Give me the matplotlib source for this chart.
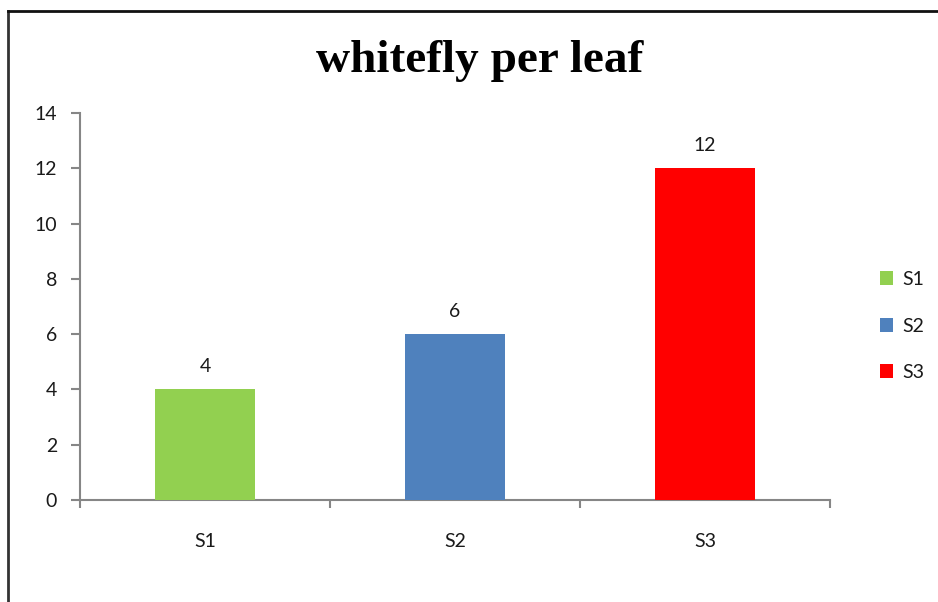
import matplotlib
matplotlib.use('Agg')
import matplotlib.pyplot as plt
from matplotlib.lines import Line2D
from matplotlib.patches import Patch

# whitefly per leaf
categories = ['S1', 'S2', 'S3']
values = [4, 6, 12]
colors = ['#92D050', '#4F81BD', '#FF0000']
yticks = [0, 2, 4, 6, 8, 10, 12, 14]

axis_grey = '#868686'
text_col = '#1a1a1a'
fs = 14

fig = plt.figure(figsize=(9.38, 6.02), dpi=100)
ax = fig.add_axes([80 / 938, 102 / 602, 750 / 938, 387 / 602])

x = range(len(categories))
bars = ax.bar(x, values, width=0.4, color=colors, zorder=3)

for xi, v in zip(x, values):
    ax.annotate(str(v), (xi, v), xytext=(0, 14), textcoords='offset pixels',
                ha='center', va='bottom', fontsize=fs, family='Lato', color=text_col)

ax.set_xlim(-0.5, len(categories) - 0.5)
ax.set_ylim(0, 14)
ax.set_yticks(yticks)
ax.set_yticklabels([str(t) for t in yticks], fontsize=fs, family='Lato', color=text_col)

# category boundaries as ticks, labels in the middle
ax.set_xticks([i - 0.5 for i in range(len(categories) + 1)])
ax.set_xticklabels([])
ax.set_xticks(list(x), minor=True)
ax.set_xticklabels(categories, minor=True, fontsize=fs, family='Lato', color=text_col)
ax.tick_params(axis='x', which='major', length=6, width=1.5, color=axis_grey, direction='out')
ax.tick_params(axis='x', which='minor', length=0, pad=23.5)
ax.tick_params(axis='y', length=6.5, width=1.5, color=axis_grey, pad=10)

for s in ['top', 'right']:
    ax.spines[s].set_visible(False)
for s in ['left', 'bottom']:
    ax.spines[s].set_color(axis_grey)
    ax.spines[s].set_linewidth(1.5)

fig.text(0.511, 1 - 61 / 602, 'whitefly per leaf', ha='center', va='center',
         fontsize=34, fontweight='bold', family='Liberation Serif')

handles = [Patch(facecolor=c, label=l) for c, l in zip(colors, categories)]
fig.legend(handles=handles, loc='center left', bbox_to_anchor=(862 / 938, 1 - 326 / 602),
           frameon=False, handlelength=0.7, handleheight=0.7, handletextpad=0.5,
           labelspacing=1.52, prop={'family': 'Lato', 'size': fs}, labelcolor=text_col)

# frame lines (top and left only)
fig.add_artist(Line2D([8 / 938, 8 / 938], [0, 1 - 11 / 602], color='#333333', lw=2))
fig.add_artist(Line2D([8 / 938, 1], [1 - 11 / 602, 1 - 11 / 602], color='#111111', lw=2))

fig.savefig('out.png', dpi=100)
